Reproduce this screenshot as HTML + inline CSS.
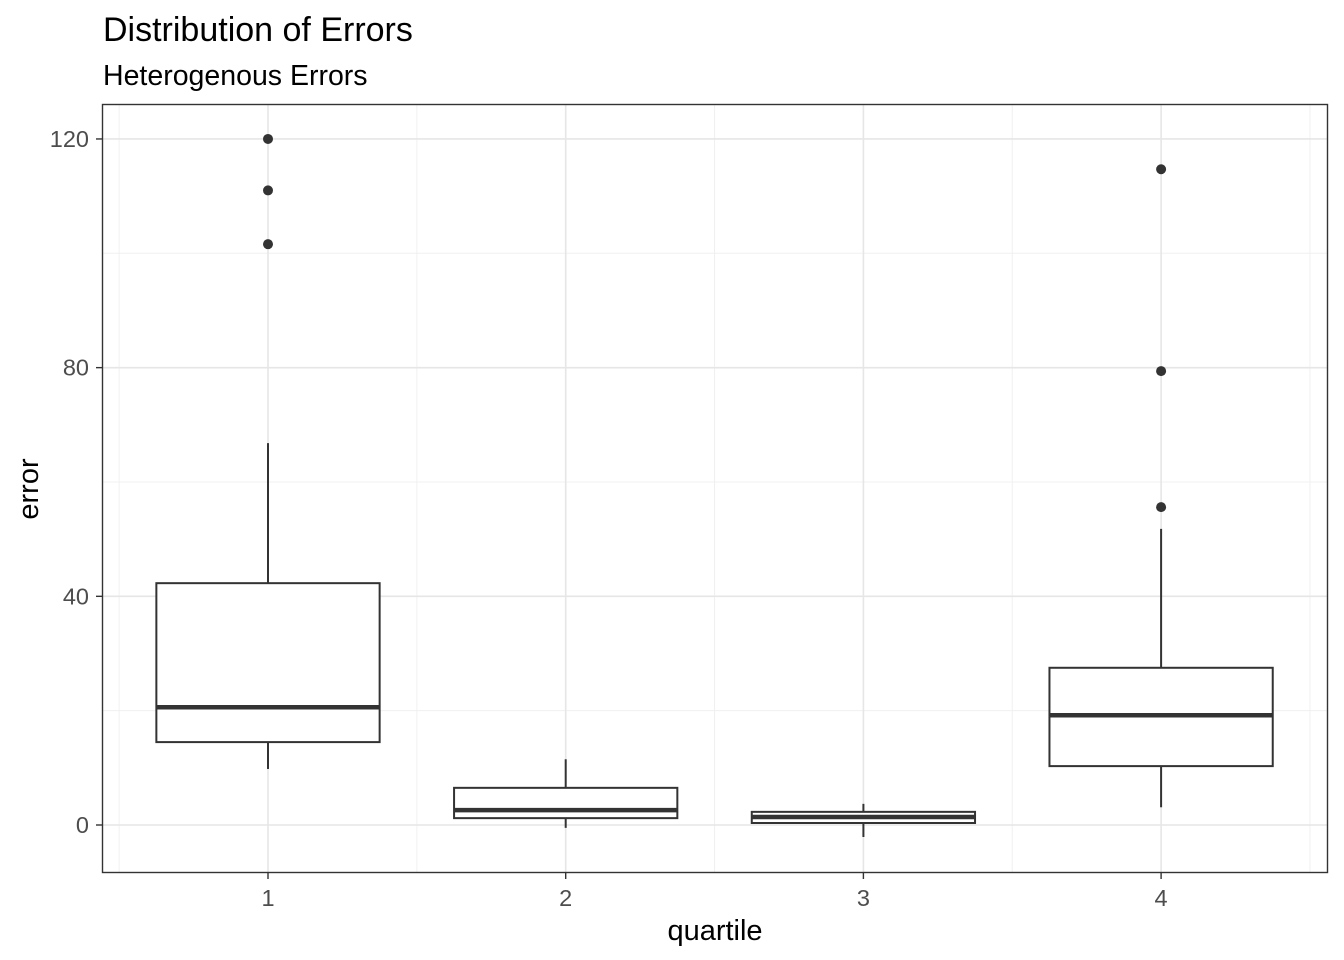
<!DOCTYPE html>
<html><head><meta charset="utf-8"><style>
html,body{margin:0;padding:0;background:#fff;}
svg{display:block;font-family:"Liberation Sans",Arial,sans-serif;}
</style></head><body>
<svg id="chart" width="1344" height="960" viewBox="0 0 1344 960">
<text x="103" y="41" font-size="34" fill="#000">Distribution of Errors</text>
<text x="103" y="85" font-size="28.5" fill="#000">Heterogenous Errors</text>
<g id="grid"></g>
<g id="marks"></g>
<rect x="102.5" y="104.5" width="1225" height="768" fill="none" stroke="#333" stroke-width="1.4"/>
<g id="axes"></g>
<text x="715" y="940" font-size="29" text-anchor="middle" fill="#000">quartile</text>
<text transform="translate(38,489) rotate(-90)" font-size="29" text-anchor="middle" fill="#000">error</text>
</svg>
<script>
const categories = ["1","2","3","4"];
const lowWhisker = [9.8, -0.5, -2.1, 3.1];
const q1 = [14.5, 1.2, 0.35, 10.3];
const median = [20.6, 2.6, 1.4, 19.2];
const q3 = [42.3, 6.5, 2.3, 27.5];
const highWhisker = [66.8, 11.5, 3.7, 51.8];
const outliers = [[120, 111, 101.6], [], [], [114.7, 79.4, 55.6]];
const yTicks = [0, 40, 80, 120];
const yMinor = [20, 60, 100];

const NS = "http://www.w3.org/2000/svg";
const xs = i => 268 + (i) * 297.7;
const ys = v => 825 - v * 5.717;
function mk(tag, attrs, parent){const e=document.createElementNS(NS,tag);for(const k in attrs)e.setAttribute(k,attrs[k]);parent.appendChild(e);return e;}
const grid = document.getElementById('grid'), marks = document.getElementById('marks'), axes = document.getElementById('axes');

yMinor.forEach(v=>{const l=mk('line',{x1:103,x2:1327,y1:ys(v),y2:ys(v),stroke:'#f0f0f0','stroke-width':1},grid);

});
for(let i=-0.5;i<categories.length;i+=1){const l=mk('line',{x1:xs(i),x2:xs(i),y1:105,y2:872,stroke:'#f0f0f0','stroke-width':1},grid);

}
yTicks.forEach(v=>{const l=mk('line',{x1:103,x2:1327,y1:ys(v),y2:ys(v),stroke:'#e6e6e6','stroke-width':1.6},grid);


const t=mk('line',{x1:96,x2:102,y1:ys(v),y2:ys(v),stroke:'#333','stroke-width':1.4},axes);


const tx=mk('text',{x:89,y:ys(v)+8,'font-size':23.5,'text-anchor':'end',fill:'#4d4d4d'},axes);tx.textContent=v;

});
categories.forEach((c,i)=>{const x=xs(i);
const g=mk('line',{x1:x,x2:x,y1:105,y2:872,stroke:'#e6e6e6','stroke-width':1.6},grid);


const t=mk('line',{x1:x,x2:x,y1:873,y2:879,stroke:'#333','stroke-width':1.4},axes);


const tx=mk('text',{x:x,y:906,'font-size':23.5,'text-anchor':'middle',fill:'#4d4d4d'},axes);tx.textContent=c;



const g2=mk('g',{},marks);


const hw=0.375*297.7;
mk('line',{x1:x,x2:x,y1:ys(q3[i]),y2:ys(highWhisker[i]),stroke:'#333','stroke-width':2},g2);
mk('line',{x1:x,x2:x,y1:ys(q1[i]),y2:ys(lowWhisker[i]),stroke:'#333','stroke-width':2},g2);
mk('rect',{x:x-hw,y:ys(q3[i]),width:2*hw,height:ys(q1[i])-ys(q3[i]),fill:'#fff',stroke:'#333','stroke-width':2},g2);
mk('line',{x1:x-hw,x2:x+hw,y1:ys(median[i]),y2:ys(median[i]),stroke:'#333','stroke-width':4.5},g2);
outliers[i].forEach(v=>{const p=mk('circle',{cx:x,cy:ys(v),r:5,fill:'#333'},g2);

});
});
</script>
</body></html>
